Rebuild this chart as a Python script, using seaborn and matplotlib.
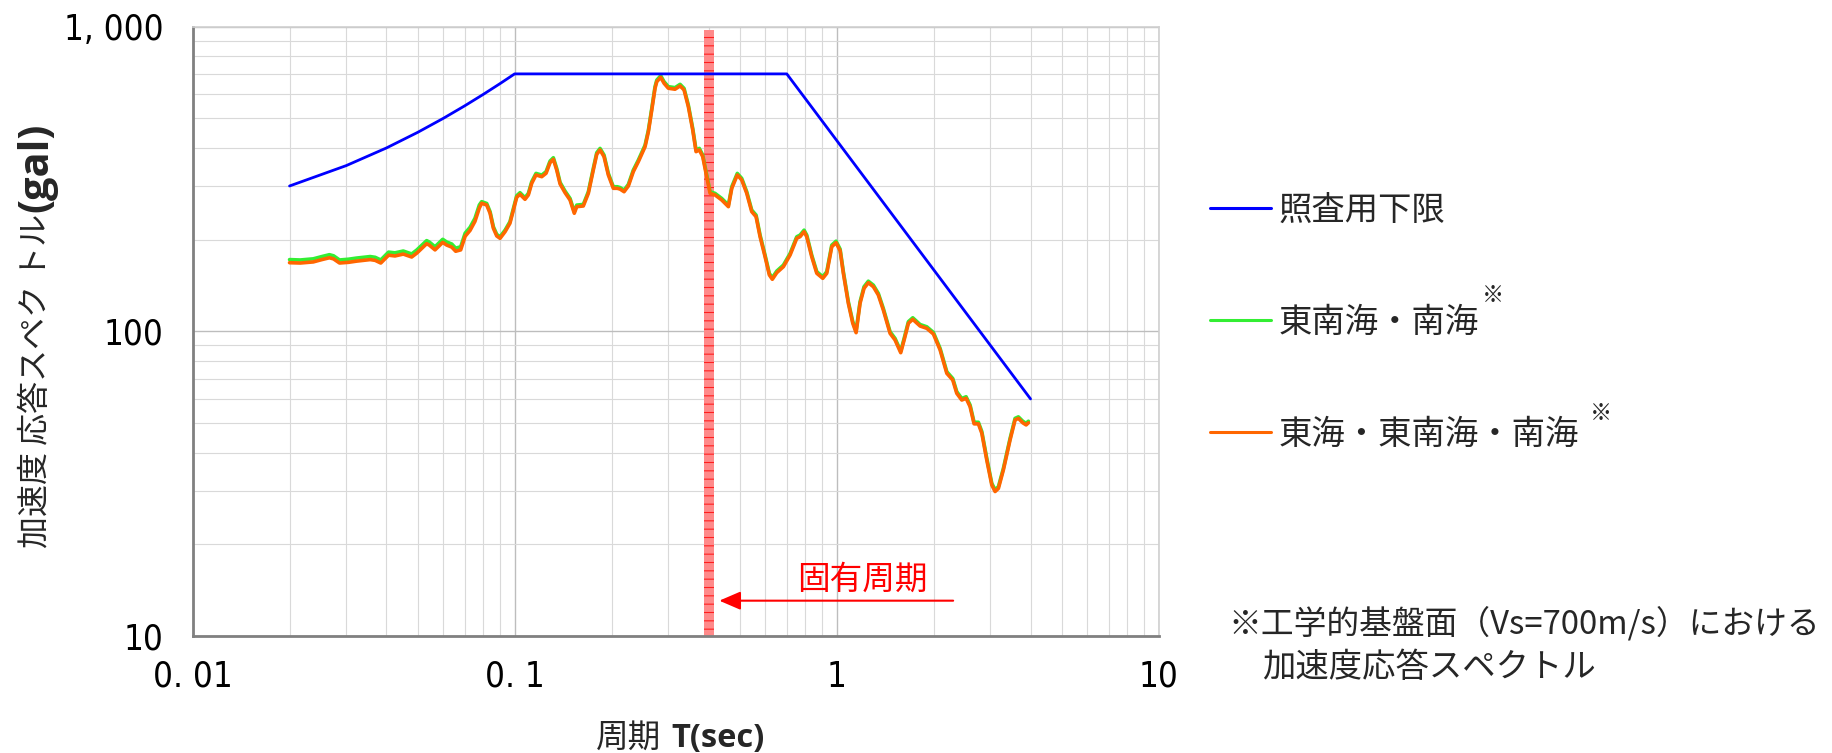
import matplotlib
matplotlib.use("Agg")
import matplotlib.pyplot as plt
from matplotlib import font_manager
from matplotlib.ticker import FixedLocator, FixedFormatter, LogLocator, NullFormatter
import pandas as pd
import seaborn as sns

# ---------------- data ----------------
# lower-limit design spectrum (照査用下限)
limit_period = [0.02, 0.03, 0.04, 0.05, 0.06, 0.07, 0.08, 0.09, 0.1, 0.7, 4.0]
limit_accel = [300, 350, 400, 450, 500, 550, 600, 650, 700, 700, 60]

# periods shared by the two site spectra
period = [
    0.0200, 0.0216, 0.0237, 0.0252, 0.0266, 0.0274, 0.0286, 0.0305, 0.0323, 0.0356,
    0.0369, 0.0384, 0.0406, 0.0425, 0.0451, 0.0468, 0.0479, 0.0497, 0.0533, 0.0543,
    0.0566, 0.0598, 0.0615, 0.0638, 0.0656, 0.0680, 0.0702, 0.0727, 0.0753, 0.0777,
    0.0790, 0.0819, 0.0839, 0.0859, 0.0880, 0.0901, 0.0934, 0.0967, 0.0991, 0.1015,
    0.1039, 0.1077, 0.1103, 0.1130, 0.1165, 0.1214, 0.1252, 0.1288, 0.1319, 0.1351,
    0.1384, 0.1434, 0.1486, 0.1532, 0.1559, 0.1634, 0.1694, 0.1755, 0.1799, 0.1842,
    0.1895, 0.1954, 0.2025, 0.2084, 0.2125, 0.2187, 0.2255, 0.2336, 0.2422, 0.2541,
    0.2602, 0.2666, 0.2729,
    0.2763, 0.2842, 0.2911, 0.3001, 0.3148, 0.3264, 0.3358, 0.3463, 0.3573, 0.3659,
    0.3746, 0.3838, 0.3929, 0.4045, 0.4192, 0.4396, 0.4611, 0.4724, 0.4914, 0.5072,
    0.5257, 0.5448, 0.5620, 0.5783, 0.5993, 0.6180, 0.6313, 0.6516, 0.6832, 0.7168,
    0.7517, 0.7696, 0.7922, 0.8074, 0.8367, 0.8674, 0.9054, 0.9317, 0.9656, 0.9957,
    1.025, 1.049, 1.087, 1.122, 1.149, 1.182, 1.216, 1.254, 1.300, 1.347,
    1.396, 1.465, 1.518, 1.581, 1.620, 1.670, 1.723, 1.816, 1.905, 1.997,
    2.095, 2.198, 2.294, 2.360, 2.446, 2.523, 2.596, 2.671, 2.755, 2.823,
    2.925, 3.032, 3.104, 3.178, 3.294, 3.455, 3.581, 3.667, 3.784, 3.875,
    3.939,
]

# 東南海・南海
accel_tonankai_nankai = [
    172.0, 171.5, 173.0, 176.0, 178.5, 177.0, 171.5, 172.5, 174.0, 176.0,
    175.0, 171.5, 182.0, 181.0, 183.5, 181.0, 179.5, 185.0, 198.5, 196.5,
    189.5, 200.5, 196.5, 193.5, 187.5, 189.5, 210.0, 219.5, 235.0, 260.0,
    266.5, 262.9, 247.0, 220.5, 208.1, 204.4, 214.9, 229.0, 253.2, 278.7,
    285.2, 274.6, 283.7, 309.9, 330.0, 325.8, 334.3, 362.1, 371.5, 342.6,
    308.3, 288.6, 273.1, 247.0, 259.7, 261.0, 287.3, 342.6, 385.9, 398.6,
    379.0, 330.0, 298.3, 298.3, 296.5, 290.7, 303.6, 338.2, 364.9, 408.5,
    457.4, 539.3, 635.6,
    667.8, 690.4, 659.8, 635.6, 630.9, 646.9, 627.4, 552.8, 463.6, 393.6,
    398.6, 379.0, 334.3, 287.3, 283.7, 273.1, 259.7, 298.3, 330.0, 317.8,
    287.3, 250.1, 240.8, 207.0, 177.9, 154.9, 150.0, 157.7, 165.0, 180.2,
    204.4, 207.0, 214.9, 207.0, 177.9, 157.0, 151.1, 157.0, 191.9, 197.7,
    186.1, 157.0, 125.1, 107.6, 100.2, 125.1, 140.1, 146.1, 141.8, 133.2,
    118.9, 99.7, 94.8, 86.1, 94.8, 107.6, 110.8, 105.3, 103.5, 99.2,
    87.9, 73.7, 70.0, 63.4, 60.2, 61.0, 57.3, 50.3, 50.3, 46.9,
    38.3, 31.7, 30.2, 30.9, 35.5, 44.5, 51.8, 52.4, 50.7, 49.9,
    50.7,
]

# 東海・東南海・南海
accel_tokai_tonankai_nankai = [
    168.0, 167.6, 169.0, 172.0, 174.4, 172.9, 167.6, 168.5, 170.0, 172.0,
    171.0, 167.6, 177.8, 176.8, 179.3, 176.8, 175.4, 180.7, 193.9, 192.0,
    185.1, 195.9, 192.0, 189.0, 183.2, 185.1, 205.2, 214.4, 229.6, 254.0,
    263.3, 259.8, 244.1, 217.9, 205.6, 202.0, 212.4, 226.3, 250.2, 275.4,
    281.8, 271.3, 280.3, 306.2, 326.1, 321.9, 330.3, 357.8, 367.1, 338.5,
    304.6, 285.2, 269.9, 244.1, 256.6, 257.9, 283.9, 338.5, 381.3, 393.9,
    374.5, 326.1, 294.8, 294.8, 293.0, 287.3, 300.0, 334.2, 360.6, 403.7,
    452.0, 532.9, 628.1,
    659.9, 682.2, 652.0, 628.1, 623.4, 639.2, 620.0, 546.2, 458.1, 388.9,
    393.9, 374.5, 330.3, 283.9, 280.3, 269.9, 256.6, 294.8, 326.1, 314.0,
    283.9, 247.1, 237.9, 204.5, 175.8, 153.1, 148.2, 155.8, 163.0, 178.1,
    202.0, 204.5, 212.4, 204.5, 175.8, 155.1, 149.3, 155.1, 189.6, 195.4,
    183.9, 155.1, 123.6, 106.3, 99.0, 123.6, 138.4, 144.4, 140.1, 131.6,
    117.5, 98.5, 93.7, 85.1, 93.7, 106.3, 109.5, 104.1, 102.3, 98.0,
    86.9, 72.8, 69.2, 62.6, 59.5, 60.3, 56.6, 49.7, 49.7, 46.3,
    37.8, 31.3, 29.8, 30.5, 35.1, 44.0, 51.2, 51.8, 50.1, 49.3,
    50.1,
]

# natural period of the structure (band) and its annotation
natural_period_band = (0.386, 0.415)
arrow_tip = (0.432, 13.06)
arrow_tail = (2.30, 13.06)
arrow_text_pos = (1.2, 15.3)

series_names = ["照査用下限", "東南海・南海", "東海・東南海・南海"]
series_colors = ["#0000FF", "#33EE33", "#FF6600"]

x_ticks = [0.01, 0.1, 1, 10]
x_tick_labels = ["0. 01", "0. 1", "1", "10"]
y_ticks = [10, 100, 1000]
y_tick_labels = ["10", "100", "1, 000"]

# ---------------- style ----------------
sns.set_theme(style="white")
plt.rcParams["font.family"] = ["Noto Sans CJK JP", "DejaVu Sans"]
plt.rcParams["hatch.linewidth"] = 0.8

fonts = font_manager.fontManager.ttflist
installed = {f.name for f in fonts}
num_stretch = "normal"
num_size = 27
if "Liberation Sans Narrow" in installed:
    NUM_FONT = "Liberation Sans Narrow"
elif any(f.name == "DejaVu Sans" and "Condensed" in f.fname for f in fonts):
    NUM_FONT, num_stretch, num_size = "DejaVu Sans", "condensed", 25
else:
    NUM_FONT, num_size = "Liberation Sans", 25
BOLD_FONT = "Open Sans" if "Open Sans" in installed else "DejaVu Sans"

W, H = 1832, 753
fig = plt.figure(figsize=(W / 100, H / 100), dpi=100)
fig.patch.set_facecolor("white")


def fx(px):
    return px / W


def fy(py):
    return 1 - py / H


left, right, top, bottom = 192.6, 1158.7, 26.7, 636.0
ax = fig.add_axes([fx(left), fy(bottom), (right - left) / W, (bottom - top) / H])
ax.set_xscale("log")
ax.set_yscale("log")

# natural-period band
ax.axvspan(*natural_period_band, ymin=0, ymax=0.995, facecolor="#FF8A8A",
           edgecolor="#FF1F1F", hatch="--", linewidth=0, zorder=2)

df_green = pd.DataFrame({"T": period, "S": accel_tonankai_nankai})
df_orange = pd.DataFrame({"T": period, "S": accel_tokai_tonankai_nankai})
df_limit = pd.DataFrame({"T": limit_period, "S": limit_accel})

sns.lineplot(data=df_green, x="T", y="S", ax=ax, color=series_colors[1], lw=2.6,
             estimator=None, sort=False, label=series_names[1], zorder=3)
sns.lineplot(data=df_orange, x="T", y="S", ax=ax, color=series_colors[2], lw=2.6,
             estimator=None, sort=False, label=series_names[2], zorder=4)
sns.lineplot(data=df_limit, x="T", y="S", ax=ax, color=series_colors[0], lw=2.0,
             estimator=None, sort=False, label=series_names[0], zorder=5)

ax.set_xlim(0.01, 10)
ax.set_ylim(10, 1000)
ax.set_xlabel("")
ax.set_ylabel("")

ax.xaxis.set_major_locator(FixedLocator(x_ticks))
ax.xaxis.set_major_formatter(FixedFormatter(x_tick_labels))
ax.yaxis.set_major_locator(FixedLocator(y_ticks))
ax.yaxis.set_major_formatter(FixedFormatter(y_tick_labels))
for axis in (ax.xaxis, ax.yaxis):
    axis.set_minor_locator(LogLocator(base=10, subs=range(2, 10)))
    axis.set_minor_formatter(NullFormatter())

ax.grid(which="major", color="#BDBDBD", lw=1.0, zorder=0)
ax.grid(which="minor", color="#D9D9D9", lw=0.8, zorder=0)
ax.set_axisbelow(True)
ax.tick_params(which="both", length=0)
ax.tick_params(axis="y", pad=21, labelsize=num_size, colors="black")
ax.tick_params(axis="x", pad=17, labelsize=num_size, colors="black")
for lbl in ax.get_xticklabels() + ax.get_yticklabels():
    lbl.set_fontfamily(NUM_FONT)
    lbl.set_fontstretch(num_stretch)

for s in ("left", "bottom"):
    ax.spines[s].set_color("#808080")
    ax.spines[s].set_linewidth(2.0)
for s in ("top", "right"):
    ax.spines[s].set_color("#D0D0D0")
    ax.spines[s].set_linewidth(1.2)

# natural period annotation
ax.annotate("", xy=arrow_tip, xytext=arrow_tail,
            arrowprops=dict(arrowstyle="-|>,head_length=0.65,head_width=0.28",
                            mutation_scale=20, color="red", lw=1.5,
                            shrinkA=0, shrinkB=0), zorder=6)
ax.text(*arrow_text_pos, "固有周期", color="red", ha="center", va="center",
        fontsize=23.5, zorder=6)

# legend
handles = {l.get_label(): l for l in ax.get_lines()}
leg_handles = [handles[n] for n in series_names]
LEG_FS = 24
fs_px = LEG_FS * 100 / 72


def make_legend(anchor_y, spacing):
    return ax.legend(leg_handles, series_names, loc="upper left",
                     bbox_to_anchor=(fx(1210), anchor_y), bbox_transform=fig.transFigure,
                     frameon=False, fontsize=LEG_FS, handlelength=1.83,
                     handletextpad=0.22, labelspacing=spacing, borderpad=0,
                     borderaxespad=0)


anchor_y, spacing = fy(180), 1.9
leg = make_legend(anchor_y, spacing)
for _ in range(3):
    fig.canvas.draw()
    r = fig.canvas.get_renderer()
    ys = []
    for ln in leg.get_lines():
        e = ln.get_window_extent(r)
        ys.append((e.y0 + e.y1) / 2)
    pitch = ys[0] - ys[1]
    spacing += (112 - pitch) / fs_px
    anchor_y += ((H - 208) - ys[0]) / H
    leg.remove()
    leg = make_legend(anchor_y, spacing)
for ln in leg.get_lines():
    ln.set_linewidth(2.2)

fig.canvas.draw()
r = fig.canvas.get_renderer()
texts = leg.get_texts()
lines = leg.get_lines()
for i, (gap, lift) in ((1, (3, 24)), (2, (11, 19))):
    te = texts[i].get_window_extent(r)
    le = lines[i].get_window_extent(r)
    cy = (le.y0 + le.y1) / 2
    fig.text((te.x1 + gap) / W, (cy + lift) / H, "※", fontsize=16,
             ha="left", va="center")

# axis titles
t_period = fig.text(fx(596), fy(747), "周期", fontsize=23.5, ha="left", va="baseline")
fig.canvas.draw()
e = t_period.get_window_extent(fig.canvas.get_renderer())
fig.text((e.x1 + 10) / W, fy(747), "T(sec)", fontsize=23.5, fontfamily=BOLD_FONT,
         fontweight="bold", ha="left", va="baseline")

t_acc = fig.text(fx(36), fy(548), "加速度 応答スペク トル", fontsize=23,
                 rotation=90, ha="center", va="bottom")
fig.canvas.draw()
e = t_acc.get_window_extent(fig.canvas.get_renderer())
fig.text(fx(37), (e.y1 + 2) / H, "(gal)", fontsize=30, fontfamily=BOLD_FONT,
         fontweight="bold", rotation=90, ha="center", va="bottom")

# footnote
fig.text(fx(1228), fy(623), "※工学的基盤面（Vs=700m/s）における", fontsize=23.6,
         ha="left", va="center")
fig.text(fx(1262), fy(668), "加速度応答スペクトル", fontsize=24, ha="left", va="center")

fig.savefig("out.png", dpi=100, facecolor="white")
